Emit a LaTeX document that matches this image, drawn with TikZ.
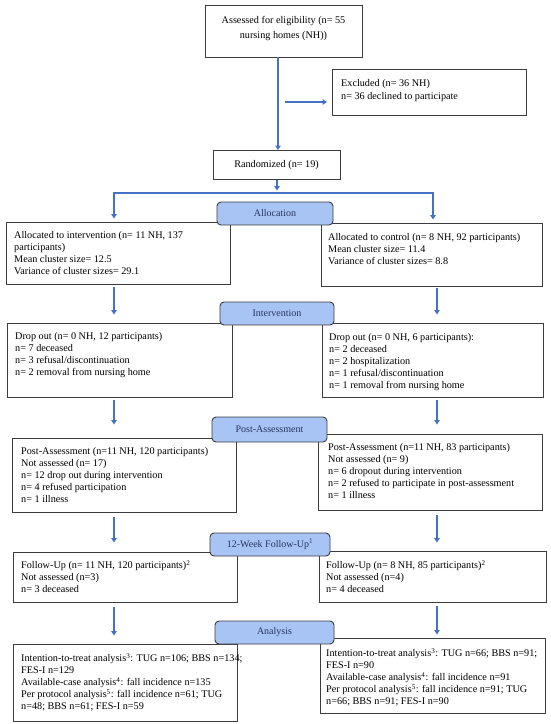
\documentclass[tikz,border=0pt]{standalone}
\usepackage{fontspec}
\setmainfont{Liberation Serif}
\usetikzlibrary{arrows.meta}
\definecolor{flowblue}{RGB}{68,114,196}
\definecolor{labfill}{RGB}{168,196,244}
\definecolor{labtext}{RGB}{40,52,95}
\definecolor{boxline}{RGB}{60,60,60}
\newcommand\mkbox[5]{\node[box, minimum width={#4-#2}, minimum height={#5-#3}] (#1) at ({(#2+#4)/2},{(#3+#5)/2}) {};}
\begin{document}
\begin{tikzpicture}[x=1pt,y=-1pt,
  box/.style={draw=boxline, line width=0.9pt, inner sep=0pt, fill=white},
  txt/.style={anchor=north west, inner sep=0pt, align=left, font=\fontsize{10.2}{12}\selectfont},
  lab/.style={draw=boxline, line width=0.9pt, fill=labfill, rounded corners=4pt, inner sep=0pt, text=labtext, font=\fontsize{10}{12}\selectfont},
  flow/.style={draw=flowblue, line width=1.8pt, -{Triangle[length=4.5pt,width=5.5pt]}},
]
\useasboundingbox[fill=white] (0,0) rectangle (550,724);

% boxes
\mkbox{assess}{205}{5}{362}{57}
\mkbox{excl}{332.5}{69}{526}{115.5}
\mkbox{rand}{213}{150.5}{340}{179.5}
\mkbox{allocL}{6}{222}{230}{284}
\mkbox{allocR}{321}{223}{542}{286}
\mkbox{dropL}{7}{323}{232}{397}
\mkbox{dropR}{322}{323}{543}{397}
\mkbox{postL}{12}{438}{236}{512}
\mkbox{postR}{318}{434}{542}{510}
\mkbox{fuL}{13}{552}{237}{602}
\mkbox{fuR}{319}{551}{546}{602}
\mkbox{anaL}{13}{644}{237}{721}
\mkbox{anaR}{320}{638}{545}{713}

% texts
\node[align=center, inner sep=0pt, font=\fontsize{10.2}{15}\selectfont] (assesstxt) at (283.5,28.5) {Assessed for eligibility (n= 55\\nursing homes (NH))};
\node[txt, font=\fontsize{10.2}{13}\selectfont] (excltxt) at (341,79.3) {Excluded (n= 36 NH)\\n= 36 declined to participate};
\node[font=\fontsize{10.2}{12}\selectfont, inner sep=0pt] (randtxt) at (rand) {Randomized (n= 19)};
\node[txt] (allocLtxt) at (14,231.3) {Allocated to intervention (n= 11 NH, 137\\participants)\\Mean cluster size= 12.5\\Variance of cluster sizes= 29.1};
\node[txt] (allocRtxt) at (328,233.3) {Allocated to control (n= 8 NH, 92 participants)\\Mean cluster size= 11.4\\Variance of cluster sizes= 8.8};
\node[txt] (dropLtxt) at (15,332.3) {Drop out (n= 0 NH, 12 participants)\\n= 7 deceased\\n= 3 refusal/discontinuation\\n= 2 removal from nursing home};
\node[txt] (dropRtxt) at (329,333.3) {Drop out (n= 0 NH, 6 participants):\\n= 2 deceased\\n= 2 hospitalization\\n= 1 refusal/discontinuation\\n= 1 removal from nursing home};
\node[txt] (postLtxt) at (21,447.3) {Post-Assessment (n=11 NH, 120 participants)\\Not assessed (n= 17)\\n= 12 drop out during intervention\\n= 4 refused participation\\n= 1 illness};
\node[txt] (postRtxt) at (328,443.3) {Post-Assessment (n=11 NH, 83 participants)\\Not assessed (n= 9)\\n= 6 dropout during intervention\\n= 2 refused to participate in post-assessment\\n= 1 illness};
\node[txt] (fuLtxt) at (21,560.3) {Follow-Up (n= 11 NH, 120 participants)\textsuperscript{2}\\Not assessed (n=3)\\n= 3 deceased};
\node[txt] (fuRtxt) at (326,560.3) {Follow-Up (n= 8 NH, 85 participants)\textsuperscript{2}\\Not assessed (n=4)\\n= 4 deceased};
\node[txt] (anaLtxt) at (21,653.3) {Intention-to-treat analysis\textsuperscript{3}: TUG n=106; BBS n=134;\\FES-I n=129\\Available-case analysis\textsuperscript{4}: fall incidence n=135\\Per protocol analysis\textsuperscript{5}: fall incidence n=61; TUG\\n=48; BBS n=61; FES-I n=59};
\node[txt] (anaRtxt) at (326,648.3) {Intention-to-treat analysis\textsuperscript{3}: TUG n=66; BBS n=91;\\FES-I n=90\\Available-case analysis\textsuperscript{4}: fall incidence n=91\\Per protocol analysis\textsuperscript{5}: fall incidence n=91; TUG\\n=66; BBS n=91; FES-I n=90};

% column coordinates
\coordinate (colM) at (278,0);
\coordinate (colL) at (114,0);
\coordinate (colR) at (437,0);
\coordinate (exs) at (285,102);
\coordinate (split) at (277,193);
\coordinate (brL) at (114,193);
\coordinate (brR) at (433,193);

% connectors
\draw[flow] (assess.south -| colM) -- (rand.north -| colM);
\draw[flow, shorten >=5pt] (exs) -- (exs -| excl.west);
\draw[flow, shorten >=2.5pt] (rand.south -| split) -- (split);
\draw[flow, shorten >=3pt] (split) -| (allocL.north -| brL);
\draw[flow, shorten >=3pt] (split) -| (allocR.north -| brR);

\draw[flow, shorten <=3pt, shorten >=8pt] (allocL.south -| colL) -- (dropL.north -| colL);
\draw[flow, shorten <=3pt, shorten >=13pt] (dropL.south -| colL) -- (postL.north -| colL);
\draw[flow, shorten <=5pt, shorten >=9pt] (postL.south -| colL) -- (fuL.north -| colL);
\draw[flow, shorten <=5pt, shorten >=8pt] (fuL.south -| colL) -- (anaL.north -| colL);

\draw[flow, shorten <=2pt, shorten >=8pt] (allocR.south -| colR) -- (dropR.north -| colR);
\draw[flow, shorten <=3pt, shorten >=9pt] (dropR.south -| colR) -- (postR.north -| colR);
\draw[flow, shorten <=5pt, shorten >=8pt] (postR.south -| colR) -- (fuR.north -| colR);
\draw[flow, shorten <=4pt, shorten >=3pt] (fuR.south -| colR) -- (anaR.north -| colR);

% stage labels
\node[lab, minimum width=116, minimum height=23] (allocation) at (275,213.5) {Allocation};
\node[lab, minimum width=114, minimum height=23] (intervention) at (277,313.5) {Intervention};
\node[lab, minimum width=115, minimum height=25] (postassess) at (269.5,429.5) {Post-Assessment};
\node[lab, minimum width=120, minimum height=23] (followup) at (270,544.5) {12-Week Follow-Up\textsuperscript{1}};
\node[lab, minimum width=119, minimum height=23] (analysis) at (274.5,632.5) {Analysis};
\end{tikzpicture}
\end{document}
